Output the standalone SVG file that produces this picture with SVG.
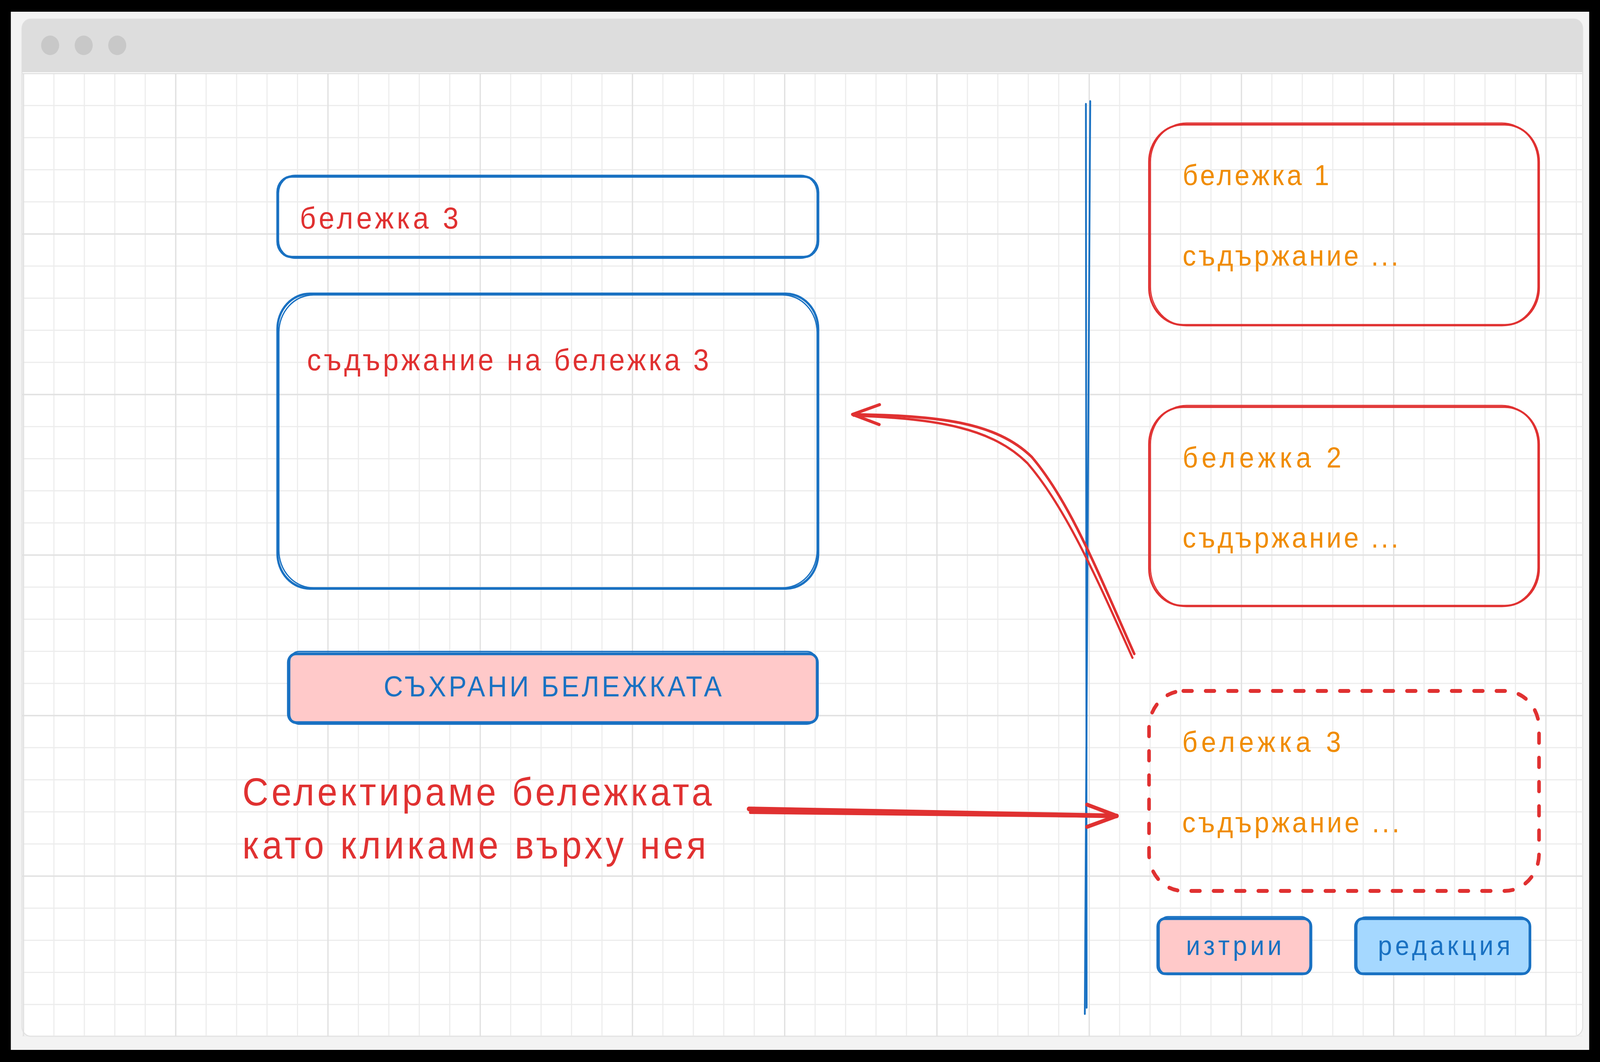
<svg xmlns="http://www.w3.org/2000/svg" width="4435" height="2719" viewBox="0 0 4435 2719" preserveAspectRatio="none" style="width:100%;height:100%">
  <style>
    .sb{fill:none;stroke:#1971c2;stroke-width:6;stroke-linecap:round;stroke-linejoin:round}
    .sb2{fill:none;stroke:#1971c2;stroke-width:3.5;stroke-linecap:round;stroke-linejoin:round}
    .sr{fill:none;stroke:#e03131;stroke-width:5;stroke-linecap:round;stroke-linejoin:round}
    .sr2{fill:none;stroke:#e03131;stroke-width:3;stroke-linecap:round;stroke-linejoin:round}
    .dash{fill:none;stroke:#e03131;stroke-width:10;stroke-dasharray:24 38;stroke-linecap:round}
    .conn{fill:none;stroke:#e03131;stroke-linecap:round;stroke-linejoin:round}
    .t{font-family:"Liberation Sans","Noto Sans",sans-serif}
    .tr{fill:#e03131}
    .to{fill:#f08c00}
    .tb{fill:#1971c2}
  </style>
  <defs>
    <pattern id="gMinor" x="63.5" y="186.5" width="84.4" height="82.2" patternUnits="userSpaceOnUse">
      <path d="M1.5 0V82.2M0 1.5H84.4" stroke="#ececec" stroke-width="3" fill="none"/>
    </pattern>
    <pattern id="gMajor" x="63.5" y="186.5" width="422" height="411" patternUnits="userSpaceOnUse">
      <path d="M1.5 0V411M0 1.5H422" stroke="#e0e0e0" stroke-width="3.5" fill="none"/>
    </pattern>
  </defs>

  <!-- background / window -->
  <g id="window">
    <rect x="0" y="0" width="4435" height="2719" fill="#000000"/>
    <rect x="30" y="30" width="4375" height="2658" fill="#f3f3f3"/>
    <rect x="61" y="49" width="4326" height="2604" rx="24" fill="#ffffff" stroke="#e2e2e2" stroke-width="3"/>
    <path d="M61 185V73a24 24 0 0 1 24-24H4363a24 24 0 0 1 24 24V185Z" fill="#dddddd"/>
    <circle cx="139" cy="116" r="25" fill="#c8c8c8"/>
    <circle cx="232" cy="116" r="25" fill="#c8c8c8"/>
    <circle cx="325" cy="116" r="25" fill="#c8c8c8"/>
    <rect x="61" y="187" width="4326" height="2466" fill="url(#gMinor)"/>
    <rect x="61" y="187" width="4326" height="2466" fill="url(#gMajor)"/>
  </g>

  <g id="title-input">
    <rect class="sb" x="769" y="452" width="1499" height="206" rx="40"/>
    <rect class="sb2" x="772" y="449" width="1493" height="212" rx="46"/>
    <text class="t tr" x="831" y="585" font-size="78" textLength="440">бележка 3</text>
  </g>

  <g id="content-input">
    <rect class="sb" x="769" y="752" width="1499" height="755" rx="90"/>
    <rect class="sb2" x="773" y="755" width="1492" height="750" rx="96"/>
    <text class="t tr" x="851" y="948" font-size="78" textLength="1114">съдържание на бележка 3</text>
  </g>

  <g id="save-button">
    <rect x="799" y="1674" width="1467" height="176" rx="22" fill="#ffc9c9" stroke="#1971c2" stroke-width="7"/>
    <rect class="sb2" x="803" y="1668" width="1460" height="186" rx="26"/>
    <text class="t tb" x="1532" y="1783" font-size="74" text-anchor="middle" textLength="937">СЪХРАНИ БЕЛЕЖКАТА</text>
  </g>

  <g id="divider">
    <path class="sb2" d="M3010 266L3012 2580" style="stroke-width:5"/>
    <path class="sb2" d="M3022 259L3007 2596" style="stroke-width:5"/>
  </g>

  <g id="note-1">
    <rect class="sr" x="3185" y="319" width="1081" height="513" rx="95"/>
    <rect class="sr2" x="3189" y="315" width="1074" height="519" rx="100"/>
    <text class="t to" x="3278" y="474" font-size="74" textLength="406">бележка 1</text>
    <text class="t to" x="3278" y="680" font-size="74" textLength="598">съдържание ...</text>
  </g>

  <g id="note-2">
    <rect class="sr" x="3185" y="1042" width="1081" height="509" rx="95"/>
    <rect class="sr2" x="3189" y="1038" width="1074" height="515" rx="100"/>
    <text class="t to" x="3278" y="1197" font-size="74" textLength="440">бележка 2</text>
    <text class="t to" x="3278" y="1402" font-size="74" textLength="598">съдържание ...</text>
  </g>

  <g id="note-3">
    <rect class="dash" x="3185" y="1769" width="1081" height="512" rx="95"/>
    <text class="t to" x="3277" y="1925" font-size="74" textLength="440">бележка 3</text>
    <text class="t to" x="3277" y="2131" font-size="74" textLength="602">съдържание ...</text>
  </g>

  <g id="delete-button">
    <rect x="3209" y="2352" width="425" height="141" rx="20" fill="#ffc9c9" stroke="#1971c2" stroke-width="7"/>
    <rect class="sb2" x="3213" y="2347" width="418" height="148" rx="24"/>
    <text class="t tb" x="3420" y="2445" font-size="70" text-anchor="middle" textLength="265">изтрии</text>
  </g>

  <g id="edit-button">
    <rect x="3757" y="2352" width="484" height="141" rx="20" fill="#a5d8ff" stroke="#1971c2" stroke-width="7"/>
    <rect class="sb2" x="3761" y="2348" width="478" height="147" rx="24"/>
    <text class="t tb" x="4003" y="2445" font-size="70" text-anchor="middle" textLength="367">редакция</text>
  </g>

  <g id="annotation">
    <text class="t tr" x="672" y="2062" font-size="100" textLength="1301">Селектираме бележката</text>
    <text class="t tr" x="672" y="2198" font-size="100" textLength="1285">като кликаме върху нея</text>
  </g>

  <g id="connectors">
    <path class="conn" stroke-width="7" d="M3144 1674C3050 1480 2970 1290 2860 1170C2760 1080 2600 1064 2363 1061"/>
    <path class="conn" stroke-width="6" d="M3139 1684C3045 1490 2955 1300 2848 1186C2750 1096 2600 1072 2366 1064"/>
    <path class="conn" stroke-width="8" d="M2438 1036L2363 1061L2437 1087"/>
    <path class="conn" stroke-width="12" d="M2076 2071L3095 2089"/>
    <path class="conn" stroke-width="8" d="M2080 2080L3090 2090"/>
    <path class="conn" stroke-width="10" d="M3013 2060L3096 2089L3013 2117"/>
  </g>
</svg>
